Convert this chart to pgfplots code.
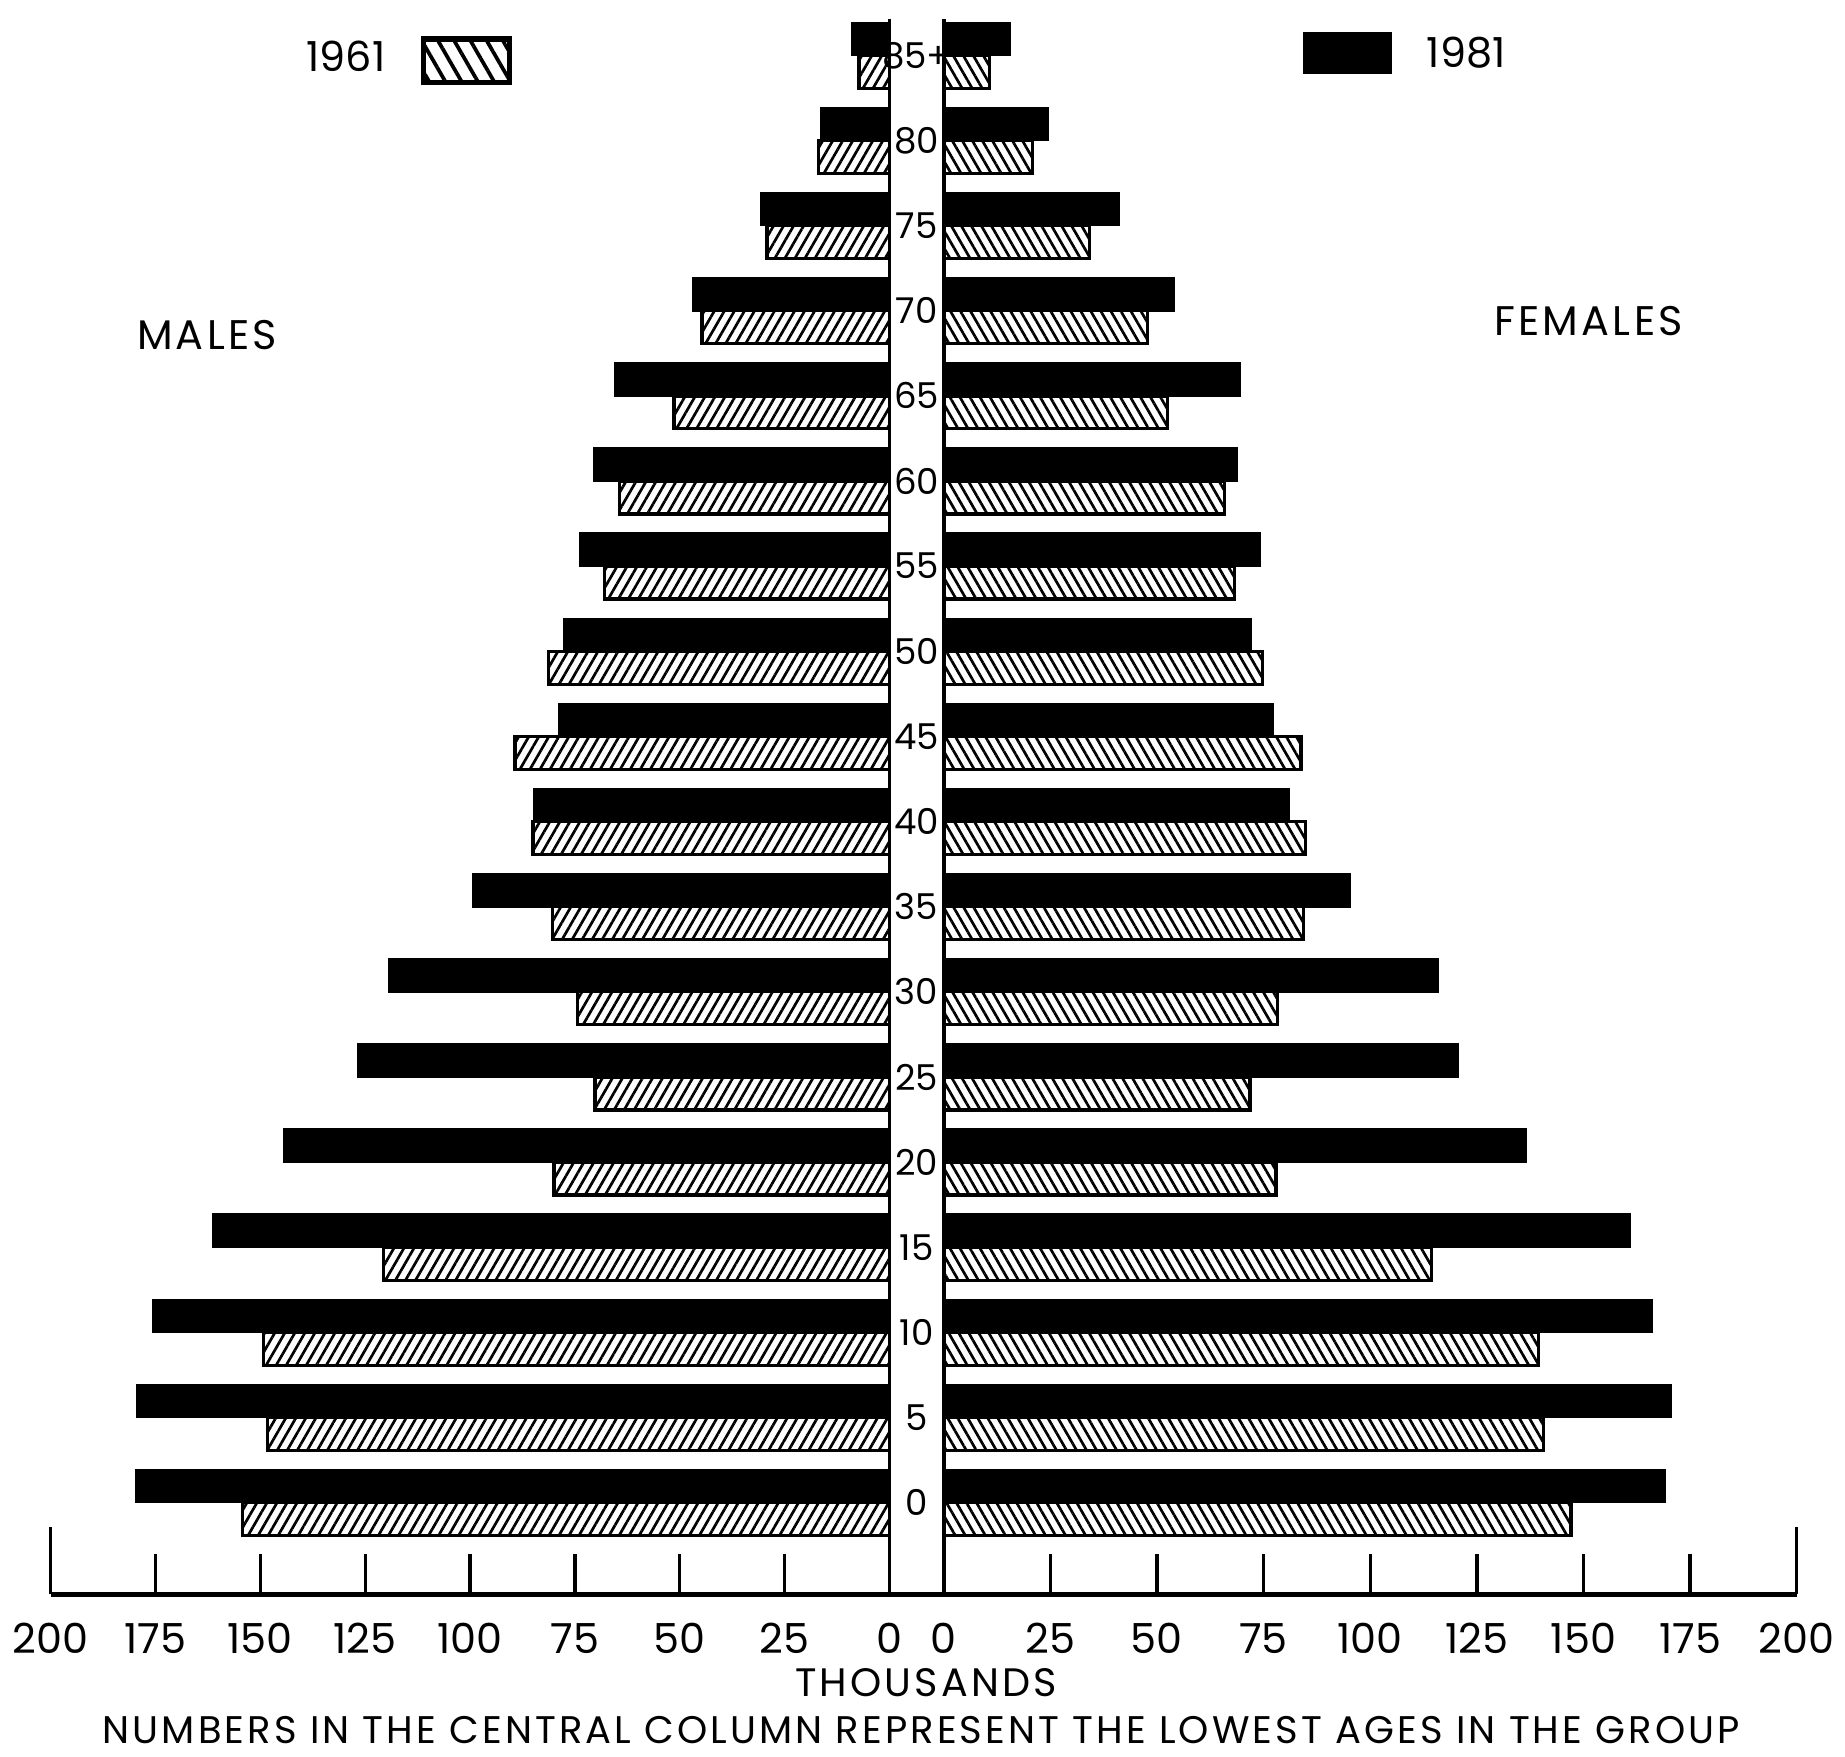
\documentclass[border=0pt]{standalone}
\usepackage{pgfplots}
\usepackage{pgfplotstable}
\pgfplotsset{compat=1.18}
\usetikzlibrary{patterns.meta}
\usepackage{fontspec}
\setmainfont{Poppins}
\newfontfamily\spaced[LetterSpace=8]{Poppins}

% age group index (0 = 0-4 ... 17 = 85+), thousands
\pgfplotstableread{
k  m61   m81   f61   f81
0  154.2 179.6 147.1 169.1
1  148.3 179.4 140.6 170.6
2  149.3 175.6 139.5 166.0
3  120.6 161.4 114.3 161.0
4  80.0  144.5 77.9  136.6
5  70.2  126.7 71.8  120.7
6  74.4  119.4 78.2  116.0
7  80.4  99.4  84.3  95.4
8  85.0  84.8  84.8  80.9
9  89.3  78.9  83.8  77.3
10 81.3  77.6  74.8  72.0
11 68.0  73.8  68.2  74.3
12 64.4  70.6  65.8  68.9
13 51.4  65.6  52.4  69.4
14 44.7  47.0  47.8  54.0
15 29.2  30.6  34.2  41.2
16 16.9  16.4  20.9  24.5
17 7.3   9.0   10.8  15.6
}\pyramid

\pgfplotsset{
  pyr/.style={
    scale only axis,
    height=13.55cm,
    ymin=-1.078, ymax=17.65,
    xmin=0, xmax=200,
    clip=false,
    xbar, bar width=0.28cm,
    axis x line*=bottom,
    x axis line style={line width=1.1pt,-},
    tick align=inside,
    xtick={0,25,...,175},
    extra x ticks={200},
    extra x tick style={major tick length=0.57cm},
    major tick length=0.34cm,
    every tick/.style={black,line width=0.8pt},
    xticklabel style={font=\fontsize{10}{12}\selectfont, yshift=-0.12cm},
    /pgf/number format/assume math mode=true,
  },
  b81/.style={fill=black, draw=black, bar shift=0.14cm},
  b61/.style={draw=black, line width=0.8pt, bar shift=-0.14cm,
    pattern={Lines[angle=#1,distance=2.1pt,line width=0.65pt]}},
}

\begin{document}
\begin{tikzpicture}
\useasboundingbox (0,0) rectangle (15.68,-14.93);

% males
\begin{axis}[pyr, at={(0.43cm,-13.55cm)}, anchor=south west, width=7.13cm,
  x dir=reverse, axis y line=none, ytick=\empty]
\addplot[b81] table[x=m81, y=k] {\pyramid};
\addplot[b61=60] table[x=m61, y=k] {\pyramid};
\end{axis}

% females
\begin{axis}[pyr, at={(8.02cm,-13.55cm)}, anchor=south west, width=7.25cm,
  axis y line*=left, y axis line style={draw=none},
  ytick={0,...,17}, ytick style={draw=none},
  yticklabels={0,5,10,15,20,25,30,35,40,45,50,55,60,65,70,75,80,85+},
  yticklabel style={anchor=center, xshift=-0.23cm, font=\fontsize{8.6}{10}\selectfont}]
\addplot[b81] table[x=f81, y=k] {\pyramid};
\addplot[b61=-60] table[x=f61, y=k] {\pyramid};
\end{axis}

% central column
\draw[line width=0.9pt] (7.56,-0.16) -- (7.56,-13.55);
\draw[line width=0.9pt] (8.02,-0.16) -- (8.02,-13.55);
\draw[line width=1.1pt] (7.54,-13.55) -- (8.04,-13.55);

% legend and titles
\node[font=\fontsize{10}{12}\selectfont] at (2.94,-0.48) {1961};
\draw[line width=1.3pt, pattern={Lines[angle=-60,distance=3.4pt,line width=0.9pt]}]
  (3.60,-0.33) rectangle (4.33,-0.70);
\fill (11.07,-0.27) rectangle (11.83,-0.63);
\node[font=\fontsize{10}{12}\selectfont] at (12.46,-0.45) {1981};
\node[font=\spaced\fontsize{10}{12}\selectfont] at (1.76,-2.85) {MALES};
\node[font=\spaced\fontsize{10}{12}\selectfont] at (13.50,-2.73) {FEMALES};
\node[font=\spaced\fontsize{9.6}{12}\selectfont] at (7.87,-14.30) {THOUSANDS};
\node[font=\spaced\fontsize{9.3}{12}\selectfont] at (7.83,-14.70)
  {NUMBERS IN THE CENTRAL COLUMN REPRESENT THE LOWEST AGES IN THE GROUP};
\end{tikzpicture}
\end{document}
